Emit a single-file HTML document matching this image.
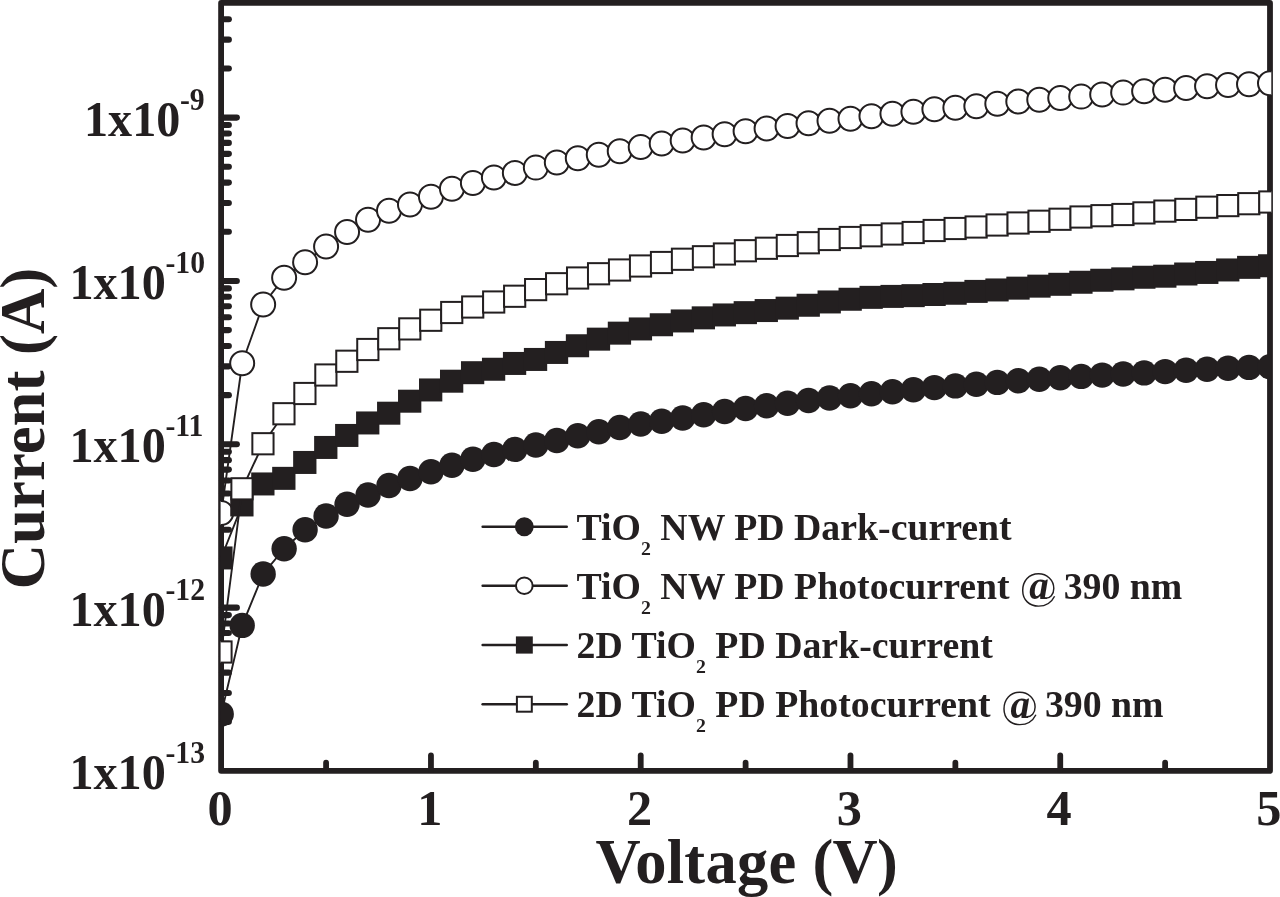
<!DOCTYPE html>
<html><head><meta charset="utf-8"><title>I-V characteristics</title>
<style>html,body{margin:0;padding:0;background:#fff;}body{width:1280px;height:897px;overflow:hidden;}svg{display:block;will-change:transform;}text{font-family:"Liberation Serif",serif;font-weight:bold;fill:#231f20;}</style></head><body>
<svg width="1280" height="897" viewBox="0 0 1280 897">
<rect x="0" y="0" width="1280" height="897" fill="#fff"/>
<defs><clipPath id="plotclip"><rect x="220.6" y="2.5" width="1050.7" height="769"/></clipPath></defs>
<g fill="none" stroke="#231f20" stroke-width="5.8" stroke-linecap="round" stroke-linejoin="round">
<rect x="221.1" y="2.9" width="1048.9" height="767.9"/>
<line x1="326.08" y1="770" x2="326.08" y2="762.7"/>
<line x1="430.96" y1="770" x2="430.96" y2="755.4"/>
<line x1="535.84" y1="770" x2="535.84" y2="762.7"/>
<line x1="640.72" y1="770" x2="640.72" y2="755.4"/>
<line x1="745.60" y1="770" x2="745.60" y2="762.7"/>
<line x1="850.48" y1="770" x2="850.48" y2="755.4"/>
<line x1="955.36" y1="770" x2="955.36" y2="762.7"/>
<line x1="1060.24" y1="770" x2="1060.24" y2="755.4"/>
<line x1="1165.12" y1="770" x2="1165.12" y2="762.7"/>
<line x1="222" y1="721.83" x2="228.85" y2="721.83" stroke-width="6.1"/>
<line x1="222" y1="693.06" x2="228.85" y2="693.06" stroke-width="6.1"/>
<line x1="222" y1="672.65" x2="228.85" y2="672.65" stroke-width="6.1"/>
<line x1="222" y1="656.82" x2="228.85" y2="656.82" stroke-width="6.1"/>
<line x1="222" y1="643.89" x2="228.85" y2="643.89" stroke-width="6.1"/>
<line x1="222" y1="632.95" x2="228.85" y2="632.95" stroke-width="6.1"/>
<line x1="222" y1="623.48" x2="228.85" y2="623.48" stroke-width="6.1"/>
<line x1="222" y1="615.12" x2="228.85" y2="615.12" stroke-width="6.1"/>
<line x1="222" y1="607.65" x2="236.85" y2="607.65" stroke-width="6.1"/>
<line x1="222" y1="558.48" x2="228.85" y2="558.48" stroke-width="6.1"/>
<line x1="222" y1="529.71" x2="228.85" y2="529.71" stroke-width="6.1"/>
<line x1="222" y1="509.30" x2="228.85" y2="509.30" stroke-width="6.1"/>
<line x1="222" y1="493.47" x2="228.85" y2="493.47" stroke-width="6.1"/>
<line x1="222" y1="480.54" x2="228.85" y2="480.54" stroke-width="6.1"/>
<line x1="222" y1="469.60" x2="228.85" y2="469.60" stroke-width="6.1"/>
<line x1="222" y1="460.13" x2="228.85" y2="460.13" stroke-width="6.1"/>
<line x1="222" y1="451.77" x2="228.85" y2="451.77" stroke-width="6.1"/>
<line x1="222" y1="444.30" x2="236.85" y2="444.30" stroke-width="6.1"/>
<line x1="222" y1="395.13" x2="228.85" y2="395.13" stroke-width="6.1"/>
<line x1="222" y1="366.36" x2="228.85" y2="366.36" stroke-width="6.1"/>
<line x1="222" y1="345.95" x2="228.85" y2="345.95" stroke-width="6.1"/>
<line x1="222" y1="330.12" x2="228.85" y2="330.12" stroke-width="6.1"/>
<line x1="222" y1="317.19" x2="228.85" y2="317.19" stroke-width="6.1"/>
<line x1="222" y1="306.25" x2="228.85" y2="306.25" stroke-width="6.1"/>
<line x1="222" y1="296.78" x2="228.85" y2="296.78" stroke-width="6.1"/>
<line x1="222" y1="288.42" x2="228.85" y2="288.42" stroke-width="6.1"/>
<line x1="222" y1="280.95" x2="236.85" y2="280.95" stroke-width="6.1"/>
<line x1="222" y1="231.78" x2="228.85" y2="231.78" stroke-width="6.1"/>
<line x1="222" y1="203.01" x2="228.85" y2="203.01" stroke-width="6.1"/>
<line x1="222" y1="182.60" x2="228.85" y2="182.60" stroke-width="6.1"/>
<line x1="222" y1="166.77" x2="228.85" y2="166.77" stroke-width="6.1"/>
<line x1="222" y1="153.84" x2="228.85" y2="153.84" stroke-width="6.1"/>
<line x1="222" y1="142.90" x2="228.85" y2="142.90" stroke-width="6.1"/>
<line x1="222" y1="133.43" x2="228.85" y2="133.43" stroke-width="6.1"/>
<line x1="222" y1="125.07" x2="228.85" y2="125.07" stroke-width="6.1"/>
<line x1="222" y1="117.60" x2="236.85" y2="117.60" stroke-width="6.1"/>
<line x1="222" y1="68.43" x2="228.85" y2="68.43" stroke-width="6.1"/>
<line x1="222" y1="39.66" x2="228.85" y2="39.66" stroke-width="6.1"/>
<line x1="222" y1="19.25" x2="228.85" y2="19.25" stroke-width="6.1"/>
</g>
<g clip-path="url(#plotclip)">
<polyline points="221.20,714.10 242.18,625.40 263.15,574.00 284.13,548.75 305.10,529.75 326.08,516.00 347.06,504.25 368.03,495.00 389.01,485.50 409.98,478.50 430.96,471.80 451.94,465.25 472.91,459.20 493.89,454.50 514.86,449.40 535.84,445.00 556.82,440.50 577.79,435.75 598.77,431.75 619.74,427.50 640.72,424.00 661.70,421.25 682.67,418.00 703.65,414.75 724.62,411.50 745.60,408.50 766.58,405.75 787.55,403.25 808.53,400.50 829.50,398.00 850.48,395.75 871.46,393.75 892.43,391.75 913.41,389.70 934.38,387.60 955.36,385.90 976.34,384.30 997.31,382.40 1018.29,380.70 1039.26,379.20 1060.24,377.70 1081.22,376.40 1102.19,375.10 1123.17,374.00 1144.14,372.90 1165.12,371.60 1186.10,370.20 1207.07,369.25 1228.05,368.30 1249.02,367.40 1270.00,366.75" fill="none" stroke="#231f20" stroke-width="1.9"/>
<g fill="#231f20">
<circle cx="221.20" cy="714.10" r="12.7"/>
<circle cx="242.18" cy="625.40" r="12.7"/>
<circle cx="263.15" cy="574.00" r="12.7"/>
<circle cx="284.13" cy="548.75" r="12.7"/>
<circle cx="305.10" cy="529.75" r="12.7"/>
<circle cx="326.08" cy="516.00" r="12.7"/>
<circle cx="347.06" cy="504.25" r="12.7"/>
<circle cx="368.03" cy="495.00" r="12.7"/>
<circle cx="389.01" cy="485.50" r="12.7"/>
<circle cx="409.98" cy="478.50" r="12.7"/>
<circle cx="430.96" cy="471.80" r="12.7"/>
<circle cx="451.94" cy="465.25" r="12.7"/>
<circle cx="472.91" cy="459.20" r="12.7"/>
<circle cx="493.89" cy="454.50" r="12.7"/>
<circle cx="514.86" cy="449.40" r="12.7"/>
<circle cx="535.84" cy="445.00" r="12.7"/>
<circle cx="556.82" cy="440.50" r="12.7"/>
<circle cx="577.79" cy="435.75" r="12.7"/>
<circle cx="598.77" cy="431.75" r="12.7"/>
<circle cx="619.74" cy="427.50" r="12.7"/>
<circle cx="640.72" cy="424.00" r="12.7"/>
<circle cx="661.70" cy="421.25" r="12.7"/>
<circle cx="682.67" cy="418.00" r="12.7"/>
<circle cx="703.65" cy="414.75" r="12.7"/>
<circle cx="724.62" cy="411.50" r="12.7"/>
<circle cx="745.60" cy="408.50" r="12.7"/>
<circle cx="766.58" cy="405.75" r="12.7"/>
<circle cx="787.55" cy="403.25" r="12.7"/>
<circle cx="808.53" cy="400.50" r="12.7"/>
<circle cx="829.50" cy="398.00" r="12.7"/>
<circle cx="850.48" cy="395.75" r="12.7"/>
<circle cx="871.46" cy="393.75" r="12.7"/>
<circle cx="892.43" cy="391.75" r="12.7"/>
<circle cx="913.41" cy="389.70" r="12.7"/>
<circle cx="934.38" cy="387.60" r="12.7"/>
<circle cx="955.36" cy="385.90" r="12.7"/>
<circle cx="976.34" cy="384.30" r="12.7"/>
<circle cx="997.31" cy="382.40" r="12.7"/>
<circle cx="1018.29" cy="380.70" r="12.7"/>
<circle cx="1039.26" cy="379.20" r="12.7"/>
<circle cx="1060.24" cy="377.70" r="12.7"/>
<circle cx="1081.22" cy="376.40" r="12.7"/>
<circle cx="1102.19" cy="375.10" r="12.7"/>
<circle cx="1123.17" cy="374.00" r="12.7"/>
<circle cx="1144.14" cy="372.90" r="12.7"/>
<circle cx="1165.12" cy="371.60" r="12.7"/>
<circle cx="1186.10" cy="370.20" r="12.7"/>
<circle cx="1207.07" cy="369.25" r="12.7"/>
<circle cx="1228.05" cy="368.30" r="12.7"/>
<circle cx="1249.02" cy="367.40" r="12.7"/>
<circle cx="1270.00" cy="366.75" r="12.7"/>
</g>
<polyline points="221.20,513.00 242.18,363.25 263.15,304.50 284.13,277.75 305.10,262.25 326.08,246.50 347.06,232.00 368.03,219.75 389.01,210.75 409.98,204.50 430.96,196.75 451.94,188.75 472.91,183.00 493.89,177.50 514.86,173.00 535.84,167.60 556.82,162.50 577.79,158.25 598.77,154.75 619.74,151.25 640.72,147.00 661.70,143.50 682.67,140.50 703.65,137.50 724.62,134.25 745.60,131.25 766.58,128.50 787.55,126.00 808.53,123.25 829.50,120.75 850.48,118.75 871.46,116.25 892.43,113.75 913.41,111.75 934.38,109.25 955.36,107.75 976.34,106.25 997.31,103.75 1018.29,101.50 1039.26,99.75 1060.24,98.00 1081.22,96.60 1102.19,94.50 1123.17,92.60 1144.14,91.25 1165.12,89.75 1186.10,88.00 1207.07,86.25 1228.05,85.00 1249.02,84.25 1270.00,83.25" fill="none" stroke="#231f20" stroke-width="1.9"/>
<g fill="#fff" stroke="#231f20" stroke-width="2.0">
<circle cx="221.20" cy="513.00" r="12.0"/>
<circle cx="242.18" cy="363.25" r="12.0"/>
<circle cx="263.15" cy="304.50" r="12.0"/>
<circle cx="284.13" cy="277.75" r="12.0"/>
<circle cx="305.10" cy="262.25" r="12.0"/>
<circle cx="326.08" cy="246.50" r="12.0"/>
<circle cx="347.06" cy="232.00" r="12.0"/>
<circle cx="368.03" cy="219.75" r="12.0"/>
<circle cx="389.01" cy="210.75" r="12.0"/>
<circle cx="409.98" cy="204.50" r="12.0"/>
<circle cx="430.96" cy="196.75" r="12.0"/>
<circle cx="451.94" cy="188.75" r="12.0"/>
<circle cx="472.91" cy="183.00" r="12.0"/>
<circle cx="493.89" cy="177.50" r="12.0"/>
<circle cx="514.86" cy="173.00" r="12.0"/>
<circle cx="535.84" cy="167.60" r="12.0"/>
<circle cx="556.82" cy="162.50" r="12.0"/>
<circle cx="577.79" cy="158.25" r="12.0"/>
<circle cx="598.77" cy="154.75" r="12.0"/>
<circle cx="619.74" cy="151.25" r="12.0"/>
<circle cx="640.72" cy="147.00" r="12.0"/>
<circle cx="661.70" cy="143.50" r="12.0"/>
<circle cx="682.67" cy="140.50" r="12.0"/>
<circle cx="703.65" cy="137.50" r="12.0"/>
<circle cx="724.62" cy="134.25" r="12.0"/>
<circle cx="745.60" cy="131.25" r="12.0"/>
<circle cx="766.58" cy="128.50" r="12.0"/>
<circle cx="787.55" cy="126.00" r="12.0"/>
<circle cx="808.53" cy="123.25" r="12.0"/>
<circle cx="829.50" cy="120.75" r="12.0"/>
<circle cx="850.48" cy="118.75" r="12.0"/>
<circle cx="871.46" cy="116.25" r="12.0"/>
<circle cx="892.43" cy="113.75" r="12.0"/>
<circle cx="913.41" cy="111.75" r="12.0"/>
<circle cx="934.38" cy="109.25" r="12.0"/>
<circle cx="955.36" cy="107.75" r="12.0"/>
<circle cx="976.34" cy="106.25" r="12.0"/>
<circle cx="997.31" cy="103.75" r="12.0"/>
<circle cx="1018.29" cy="101.50" r="12.0"/>
<circle cx="1039.26" cy="99.75" r="12.0"/>
<circle cx="1060.24" cy="98.00" r="12.0"/>
<circle cx="1081.22" cy="96.60" r="12.0"/>
<circle cx="1102.19" cy="94.50" r="12.0"/>
<circle cx="1123.17" cy="92.60" r="12.0"/>
<circle cx="1144.14" cy="91.25" r="12.0"/>
<circle cx="1165.12" cy="89.75" r="12.0"/>
<circle cx="1186.10" cy="88.00" r="12.0"/>
<circle cx="1207.07" cy="86.25" r="12.0"/>
<circle cx="1228.05" cy="85.00" r="12.0"/>
<circle cx="1249.02" cy="84.25" r="12.0"/>
<circle cx="1270.00" cy="83.25" r="12.0"/>
</g>
<polyline points="221.20,558.00 242.18,505.00 263.15,484.00 284.13,478.40 305.10,462.50 326.08,447.50 347.06,435.50 368.03,423.00 389.01,413.25 409.98,401.25 430.96,390.00 451.94,381.25 472.91,372.75 493.89,369.30 514.86,363.50 535.84,359.50 556.82,352.50 577.79,345.80 598.77,339.20 619.74,333.20 640.72,329.00 661.70,324.80 682.67,321.00 703.65,317.90 724.62,315.00 745.60,312.70 766.58,310.60 787.55,308.20 808.53,305.30 829.50,302.00 850.48,299.30 871.46,297.40 892.43,296.45 913.41,295.70 934.38,294.55 955.36,293.30 976.34,291.45 997.31,290.00 1018.29,288.20 1039.26,286.20 1060.24,284.35 1081.22,282.30 1102.19,280.30 1123.17,278.90 1144.14,277.30 1165.12,276.25 1186.10,274.05 1207.07,272.50 1228.05,270.00 1249.02,267.40 1270.00,265.80" fill="none" stroke="#231f20" stroke-width="1.9"/>
<g fill="#231f20">
<rect x="209.25" y="546.45" width="23.3" height="23.0"/>
<rect x="230.23" y="493.45" width="23.3" height="23.0"/>
<rect x="251.20" y="472.45" width="23.3" height="23.0"/>
<rect x="272.18" y="466.85" width="23.3" height="23.0"/>
<rect x="293.15" y="450.95" width="23.3" height="23.0"/>
<rect x="314.13" y="435.95" width="23.3" height="23.0"/>
<rect x="335.11" y="423.95" width="23.3" height="23.0"/>
<rect x="356.08" y="411.45" width="23.3" height="23.0"/>
<rect x="377.06" y="401.70" width="23.3" height="23.0"/>
<rect x="398.03" y="389.70" width="23.3" height="23.0"/>
<rect x="419.01" y="378.45" width="23.3" height="23.0"/>
<rect x="439.99" y="369.70" width="23.3" height="23.0"/>
<rect x="460.96" y="361.20" width="23.3" height="23.0"/>
<rect x="481.94" y="357.75" width="23.3" height="23.0"/>
<rect x="502.91" y="351.95" width="23.3" height="23.0"/>
<rect x="523.89" y="347.95" width="23.3" height="23.0"/>
<rect x="544.87" y="340.95" width="23.3" height="23.0"/>
<rect x="565.84" y="334.25" width="23.3" height="23.0"/>
<rect x="586.82" y="327.65" width="23.3" height="23.0"/>
<rect x="607.79" y="321.65" width="23.3" height="23.0"/>
<rect x="628.77" y="317.45" width="23.3" height="23.0"/>
<rect x="649.75" y="313.25" width="23.3" height="23.0"/>
<rect x="670.72" y="309.45" width="23.3" height="23.0"/>
<rect x="691.70" y="306.35" width="23.3" height="23.0"/>
<rect x="712.67" y="303.45" width="23.3" height="23.0"/>
<rect x="733.65" y="301.15" width="23.3" height="23.0"/>
<rect x="754.63" y="299.05" width="23.3" height="23.0"/>
<rect x="775.60" y="296.65" width="23.3" height="23.0"/>
<rect x="796.58" y="293.75" width="23.3" height="23.0"/>
<rect x="817.55" y="290.45" width="23.3" height="23.0"/>
<rect x="838.53" y="287.75" width="23.3" height="23.0"/>
<rect x="859.51" y="285.85" width="23.3" height="23.0"/>
<rect x="880.48" y="284.90" width="23.3" height="23.0"/>
<rect x="901.46" y="284.15" width="23.3" height="23.0"/>
<rect x="922.43" y="283.00" width="23.3" height="23.0"/>
<rect x="943.41" y="281.75" width="23.3" height="23.0"/>
<rect x="964.39" y="279.90" width="23.3" height="23.0"/>
<rect x="985.36" y="278.45" width="23.3" height="23.0"/>
<rect x="1006.34" y="276.65" width="23.3" height="23.0"/>
<rect x="1027.31" y="274.65" width="23.3" height="23.0"/>
<rect x="1048.29" y="272.80" width="23.3" height="23.0"/>
<rect x="1069.27" y="270.75" width="23.3" height="23.0"/>
<rect x="1090.24" y="268.75" width="23.3" height="23.0"/>
<rect x="1111.22" y="267.35" width="23.3" height="23.0"/>
<rect x="1132.19" y="265.75" width="23.3" height="23.0"/>
<rect x="1153.17" y="264.70" width="23.3" height="23.0"/>
<rect x="1174.15" y="262.50" width="23.3" height="23.0"/>
<rect x="1195.12" y="260.95" width="23.3" height="23.0"/>
<rect x="1216.10" y="258.45" width="23.3" height="23.0"/>
<rect x="1237.07" y="255.85" width="23.3" height="23.0"/>
<rect x="1258.05" y="254.25" width="23.3" height="23.0"/>
</g>
<polyline points="221.20,652.00 242.18,488.80 263.15,443.75 284.13,413.75 305.10,393.50 326.08,375.00 347.06,361.25 368.03,349.50 389.01,338.75 409.98,328.90 430.96,320.25 451.94,312.50 472.91,307.00 493.89,302.00 514.86,296.25 535.84,289.60 556.82,283.75 577.79,278.00 598.77,273.75 619.74,270.00 640.72,266.00 661.70,262.50 682.67,259.25 703.65,256.75 724.62,254.00 745.60,250.75 766.58,248.25 787.55,245.50 808.53,242.75 829.50,239.50 850.48,237.50 871.46,235.75 892.43,234.00 913.41,232.50 934.38,230.50 955.36,228.50 976.34,227.00 997.31,225.00 1018.29,223.00 1039.26,221.25 1060.24,219.25 1081.22,217.00 1102.19,215.70 1123.17,214.50 1144.14,212.90 1165.12,211.10 1186.10,209.40 1207.07,207.20 1228.05,205.60 1249.02,203.70 1270.00,202.00" fill="none" stroke="#231f20" stroke-width="1.9"/>
<g fill="#fff" stroke="#231f20" stroke-width="2.0">
<rect x="210.40" y="641.40" width="21.2" height="21.2"/>
<rect x="231.38" y="478.20" width="21.2" height="21.2"/>
<rect x="252.35" y="433.15" width="21.2" height="21.2"/>
<rect x="273.33" y="403.15" width="21.2" height="21.2"/>
<rect x="294.30" y="382.90" width="21.2" height="21.2"/>
<rect x="315.28" y="364.40" width="21.2" height="21.2"/>
<rect x="336.26" y="350.65" width="21.2" height="21.2"/>
<rect x="357.23" y="338.90" width="21.2" height="21.2"/>
<rect x="378.21" y="328.15" width="21.2" height="21.2"/>
<rect x="399.18" y="318.30" width="21.2" height="21.2"/>
<rect x="420.16" y="309.65" width="21.2" height="21.2"/>
<rect x="441.14" y="301.90" width="21.2" height="21.2"/>
<rect x="462.11" y="296.40" width="21.2" height="21.2"/>
<rect x="483.09" y="291.40" width="21.2" height="21.2"/>
<rect x="504.06" y="285.65" width="21.2" height="21.2"/>
<rect x="525.04" y="279.00" width="21.2" height="21.2"/>
<rect x="546.02" y="273.15" width="21.2" height="21.2"/>
<rect x="566.99" y="267.40" width="21.2" height="21.2"/>
<rect x="587.97" y="263.15" width="21.2" height="21.2"/>
<rect x="608.94" y="259.40" width="21.2" height="21.2"/>
<rect x="629.92" y="255.40" width="21.2" height="21.2"/>
<rect x="650.90" y="251.90" width="21.2" height="21.2"/>
<rect x="671.87" y="248.65" width="21.2" height="21.2"/>
<rect x="692.85" y="246.15" width="21.2" height="21.2"/>
<rect x="713.82" y="243.40" width="21.2" height="21.2"/>
<rect x="734.80" y="240.15" width="21.2" height="21.2"/>
<rect x="755.78" y="237.65" width="21.2" height="21.2"/>
<rect x="776.75" y="234.90" width="21.2" height="21.2"/>
<rect x="797.73" y="232.15" width="21.2" height="21.2"/>
<rect x="818.70" y="228.90" width="21.2" height="21.2"/>
<rect x="839.68" y="226.90" width="21.2" height="21.2"/>
<rect x="860.66" y="225.15" width="21.2" height="21.2"/>
<rect x="881.63" y="223.40" width="21.2" height="21.2"/>
<rect x="902.61" y="221.90" width="21.2" height="21.2"/>
<rect x="923.58" y="219.90" width="21.2" height="21.2"/>
<rect x="944.56" y="217.90" width="21.2" height="21.2"/>
<rect x="965.54" y="216.40" width="21.2" height="21.2"/>
<rect x="986.51" y="214.40" width="21.2" height="21.2"/>
<rect x="1007.49" y="212.40" width="21.2" height="21.2"/>
<rect x="1028.46" y="210.65" width="21.2" height="21.2"/>
<rect x="1049.44" y="208.65" width="21.2" height="21.2"/>
<rect x="1070.42" y="206.40" width="21.2" height="21.2"/>
<rect x="1091.39" y="205.10" width="21.2" height="21.2"/>
<rect x="1112.37" y="203.90" width="21.2" height="21.2"/>
<rect x="1133.34" y="202.30" width="21.2" height="21.2"/>
<rect x="1154.32" y="200.50" width="21.2" height="21.2"/>
<rect x="1175.30" y="198.80" width="21.2" height="21.2"/>
<rect x="1196.27" y="196.60" width="21.2" height="21.2"/>
<rect x="1217.25" y="195.00" width="21.2" height="21.2"/>
<rect x="1238.22" y="193.10" width="21.2" height="21.2"/>
<rect x="1259.20" y="191.40" width="21.2" height="21.2"/>
</g>
</g>
<text x="220.00" y="824.8" font-size="50.3" text-anchor="middle">0</text>
<text x="429.76" y="824.8" font-size="50.3" text-anchor="middle">1</text>
<text x="639.52" y="824.8" font-size="50.3" text-anchor="middle">2</text>
<text x="849.28" y="824.8" font-size="50.3" text-anchor="middle">3</text>
<text x="1059.04" y="824.8" font-size="50.3" text-anchor="middle">4</text>
<text x="1268.80" y="824.8" font-size="50.3" text-anchor="middle">5</text>
<text transform="translate(84.0,135.6) scale(0.958,1)" font-size="50.3">1x10</text>
<text transform="translate(179.9,109.6) scale(0.958,1)" font-size="31.0">-9</text>
<text transform="translate(69.4,299.0) scale(0.958,1)" font-size="50.3">1x10</text>
<text transform="translate(165.4,273.0) scale(0.958,1)" font-size="31.0">-10</text>
<text transform="translate(69.4,462.4) scale(0.958,1)" font-size="50.3">1x10</text>
<text transform="translate(165.4,436.4) scale(0.958,1)" font-size="31.0">-11</text>
<text transform="translate(69.4,625.7) scale(0.958,1)" font-size="50.3">1x10</text>
<text transform="translate(165.4,599.7) scale(0.958,1)" font-size="31.0">-12</text>
<text transform="translate(69.4,789.0) scale(0.958,1)" font-size="50.3">1x10</text>
<text transform="translate(165.4,763.0) scale(0.958,1)" font-size="31.0">-13</text>
<text x="746.2" y="882.7" font-size="62.5" text-anchor="middle"><tspan letter-spacing="0.3">Voltage </tspan><tspan letter-spacing="-0.8">(V)</tspan></text>
<text transform="translate(44.3,428.5) rotate(-90)" font-size="62.8" text-anchor="middle">Current (A)</text>
<line x1="482.6" y1="526.75" x2="566.8" y2="526.75" stroke="#231f20" stroke-width="2.4" stroke-linecap="round"/>
<circle cx="524.3" cy="526.75" r="9.4" fill="#231f20"/>
<text x="576.6" y="539.75" font-size="37.8">TiO<tspan font-size="19.8" dy="15">2</tspan><tspan dy="-15"> NW PD Dark-current</tspan></text>
<line x1="482.6" y1="585.75" x2="566.8" y2="585.75" stroke="#231f20" stroke-width="2.4" stroke-linecap="round"/>
<circle cx="524.3" cy="585.75" r="8.35" fill="#fff" stroke="#231f20" stroke-width="2.0"/>
<text x="576.6" y="598.75" font-size="37.8">TiO<tspan font-size="19.8" dy="15">2</tspan><tspan dy="-15"> NW PD Photocurrent</tspan></text>
<text x="1182.3" y="598.75" font-size="37.8" text-anchor="end">390 nm</text>
<g transform="translate(0.00,0.00)">
<text x="1029.2" y="599.0" font-size="39" font-style="italic">a</text>
<path d="M1045.5 598.2 C1050 598.4 1053.8 594.5 1053.8 588.5 C1053.8 580 1047 573.7 1038.5 573.7 C1029 573.7 1022.7 581 1022.7 590.5 C1022.7 600 1029.5 606.1 1038.5 606.1 C1045.5 606.1 1051.5 602.5 1054.6 596.2" fill="none" stroke="#231f20" stroke-width="1.45"/>
</g>
<line x1="482.6" y1="645.00" x2="566.8" y2="645.00" stroke="#231f20" stroke-width="2.4" stroke-linecap="round"/>
<rect x="515.9" y="636.40" width="16.9" height="17.2" fill="#231f20"/>
<text x="576.6" y="658.00" font-size="37.8">2D TiO<tspan font-size="19.8" dy="15">2</tspan><tspan dy="-15"> PD Dark-current</tspan></text>
<line x1="482.6" y1="704.25" x2="566.8" y2="704.25" stroke="#231f20" stroke-width="2.4" stroke-linecap="round"/>
<rect x="516.9" y="696.80" width="14.9" height="14.9" fill="#fff" stroke="#231f20" stroke-width="2.0"/>
<text x="576.6" y="717.25" font-size="37.8">2D TiO<tspan font-size="19.8" dy="15">2</tspan><tspan dy="-15"> PD Photocurrent</tspan></text>
<text x="1163.6" y="717.25" font-size="37.8" text-anchor="end">390 nm</text>
<g transform="translate(-18.70,118.50)">
<text x="1029.2" y="599.0" font-size="39" font-style="italic">a</text>
<path d="M1045.5 598.2 C1050 598.4 1053.8 594.5 1053.8 588.5 C1053.8 580 1047 573.7 1038.5 573.7 C1029 573.7 1022.7 581 1022.7 590.5 C1022.7 600 1029.5 606.1 1038.5 606.1 C1045.5 606.1 1051.5 602.5 1054.6 596.2" fill="none" stroke="#231f20" stroke-width="1.45"/>
</g>
</svg></body></html>
